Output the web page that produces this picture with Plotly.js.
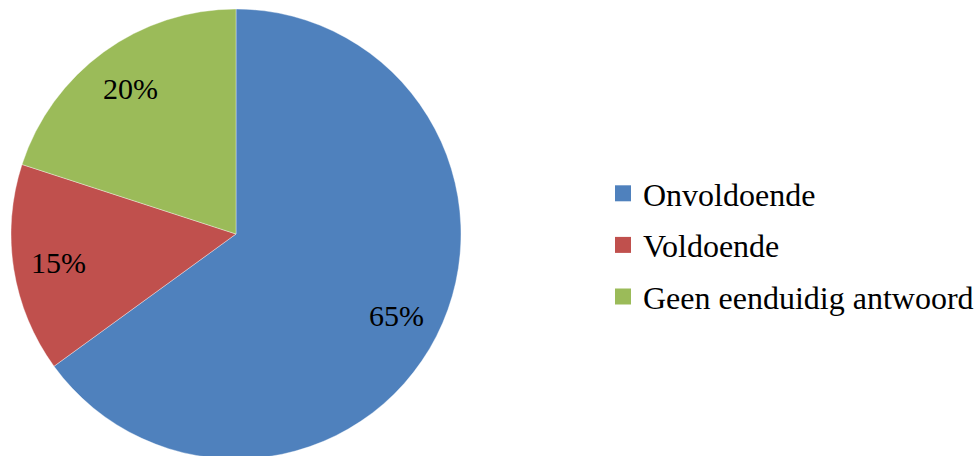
<!DOCTYPE html>
<html>
<head>
<meta charset="utf-8">
<script src="https://cdn.plot.ly/plotly-3.0.1.min.js"></script>
<style>
html,body{margin:0;padding:0;background:#fff;overflow:hidden;}
#chart{width:1000px;height:462px;}
</style>
</head>
<body>
<div id="chart"></div>
<script>
const categories = ["Onvoldoende", "Voldoende", "Geen eenduidig antwoord"];
const values = [65, 15, 20];
const colors = ["#4F81BD", "#C0504D", "#9BBB59"];

const W = 1000, H = 462;
const FONT = "'Liberation Serif', 'Times New Roman', Times, serif";
const cx = 236, cy = 234, R = 225;
const pie = {
  type: "pie",
  labels: categories,
  values: values,
  sort: false,
  direction: "clockwise",
  rotation: 0,
  marker: {colors: colors, line: {color: "rgba(255,255,255,0.6)", width: 0.6}},
  textinfo: "none",
  hoverinfo: "none",
  showlegend: false,
  domain: {x: [(cx - R) / W, (cx + R) / W], y: [1 - (cy + R) / H, 1 - (cy - R) / H]}
};

const legendTraces = categories.map((c, i) => ({
  type: "scatter",
  mode: "markers",
  x: [null], y: [null],
  name: c,
  legendgroup: "g" + i,
  marker: {symbol: "square", size: 17, color: colors[i]},
  hoverinfo: "none",
  showlegend: true
}));

// data labels placed at the middle angle of each slice
const total = values.reduce((a, b) => a + b, 0);
let cum = 0;
const annotations = values.map((v) => {
  const mid = (cum + v / 2) / total * 2 * Math.PI;
  cum += v;
  const r = 0.8 * R;
  const px = cx + r * Math.sin(mid), py = cy - r * Math.cos(mid);
  return {
    x: px / W, y: 1 - py / H, xref: "paper", yref: "paper",
    text: Math.round(v / total * 100) + "%",
    showarrow: false, xanchor: "center", yanchor: "middle",
    font: {family: FONT, size: 30, color: "#000"}
  };
});

const layout = {
  width: W, height: H,
  margin: {l: 0, r: 0, t: 0, b: 0},
  paper_bgcolor: "#fff",
  plot_bgcolor: "#fff",
  showlegend: true,
  xaxis: {visible: false},
  yaxis: {visible: false},
  annotations: annotations,
  legend: {
    x: 603 / W, xanchor: "left",
    y: 1 - 245 / H, yanchor: "middle",
    traceorder: "grouped",
    tracegroupgap: 7,
    itemsizing: "trace",
    font: {family: FONT, size: 32, color: "#000"},
    bgcolor: "rgba(0,0,0,0)"
  }
};

Plotly.newPlot("chart", [pie].concat(legendTraces), layout, {staticPlot: true, displayModeBar: false});
</script>
</body>
</html>
